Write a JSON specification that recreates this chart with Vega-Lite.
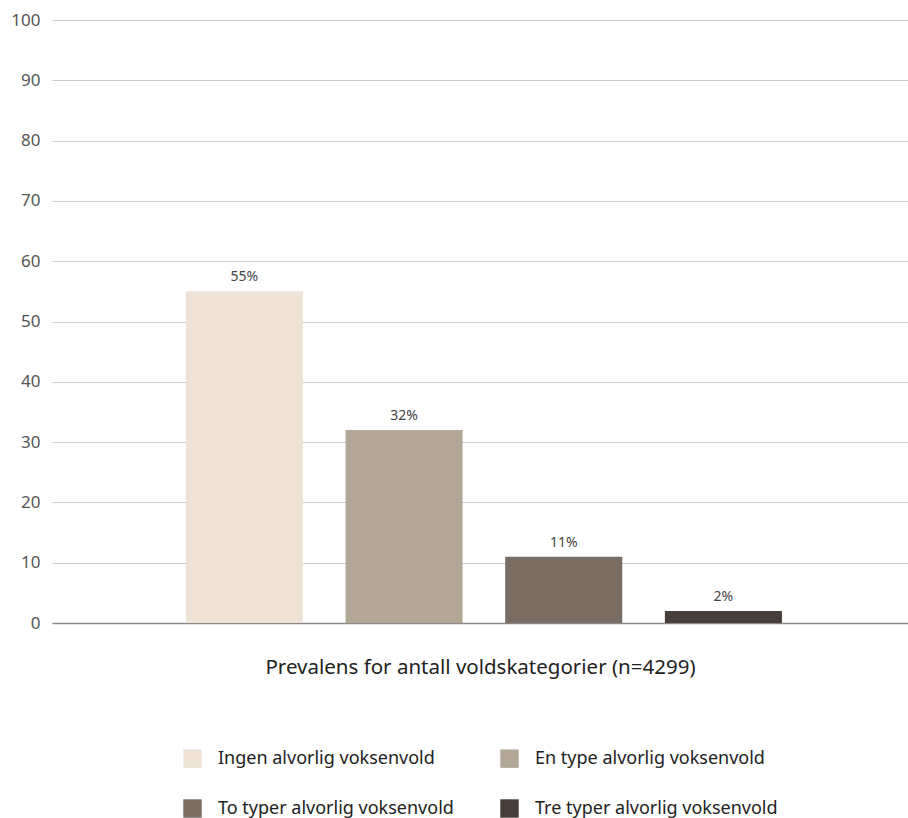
{
  "$schema": "https://vega.github.io/schema/vega-lite/v6.json",
  "autosize": {"type": "none"},
  "padding": {"left": 52, "top": 20, "right": 0, "bottom": 195},
  "width": 856,
  "height": 603,
  "background": "white",
  "config": {
    "font": "Noto Sans",
    "view": {"stroke": null}
  },
  "data": {
    "values": [
      {"kategori": "Ingen alvorlig voksenvold", "verdi": 55, "label": "55%"},
      {"kategori": "En type alvorlig voksenvold", "verdi": 32, "label": "32%"},
      {"kategori": "To typer alvorlig voksenvold", "verdi": 11, "label": "11%"},
      {"kategori": "Tre typer alvorlig voksenvold", "verdi": 2, "label": "2%"}
    ]
  },
  "encoding": {
    "x": {
      "field": "kategori",
      "type": "nominal",
      "sort": null,
      "scale": {"paddingInner": 0.267, "paddingOuter": 0.814, "align": 0.515},
      "axis": {
        "title": "Prevalens for antall voldskategorier (n=4299)",
        "titleFontSize": 20.5,
        "titleFontWeight": "normal",
        "titleColor": "#222222",
        "titlePadding": 34,
        "labels": false,
        "ticks": false,
        "domain": true,
        "domainColor": "#888888",
        "domainWidth": 1.5
      }
    },
    "y": {
      "field": "verdi",
      "type": "quantitative",
      "scale": {"domain": [0, 100]},
      "axis": {
        "title": null,
        "values": [0, 10, 20, 30, 40, 50, 60, 70, 80, 90, 100],
        "labelFontSize": 17,
        "labelColor": "#555555",
        "labelPadding": 12,
        "ticks": false,
        "domain": false,
        "gridColor": "#cccccc",
        "gridWidth": 1
      }
    }
  },
  "layer": [
    {
      "mark": {"type": "bar"},
      "encoding": {
        "color": {
          "field": "kategori",
          "type": "nominal",
          "sort": null,
          "scale": {
            "domain": ["Ingen alvorlig voksenvold", "En type alvorlig voksenvold", "To typer alvorlig voksenvold", "Tre typer alvorlig voksenvold"],
            "range": ["#EFE3D7", "#B3A798", "#796C62", "#473D3B"]
          },
          "legend": {
            "title": null,
            "orient": "none",
            "legendX": 131,
            "legendY": 729,
            "columns": 2,
            "direction": "horizontal",
            "symbolType": "square",
            "symbolSize": 340,
            "symbolStrokeWidth": 0,
            "labelFontSize": 18,
            "labelColor": "#222222",
            "labelOffset": 16,
            "columnPadding": 46,
            "rowPadding": 31,
            "labelLimit": 400
          }
        }
      }
    },
    {
      "mark": {"type": "text", "baseline": "bottom", "dy": -7, "fontSize": 14, "color": "#444444"},
      "encoding": {
        "text": {"field": "label"}
      }
    }
  ]
}
